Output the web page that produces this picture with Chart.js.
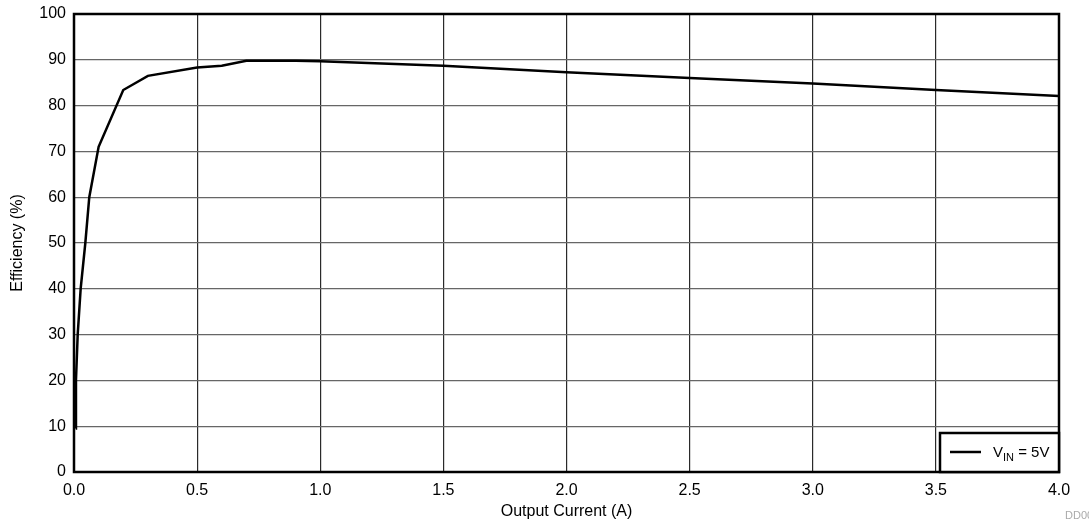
<!DOCTYPE html>
<html>
<head>
<meta charset="utf-8">
<script src="https://cdn.jsdelivr.net/npm/chart.js@4.4.1/dist/chart.umd.min.js"></script>
<style>
  html, body { margin: 0; padding: 0; background: #fff; }
  #wrap { width: 1089px; height: 522px; }
</style>
</head>
<body>
<div id="wrap"><canvas id="eff" width="1089" height="522"></canvas></div>
<script>
// values
var currentA = [0.007, 0.008, 0.015, 0.027, 0.046, 0.062, 0.1, 0.2, 0.3, 0.5, 0.6, 0.7, 0.9, 1.0, 1.5, 2.0, 2.5, 3.0, 3.5, 4.0];
var efficiency = [9.5, 20, 30, 40, 50, 60, 71, 83.4, 86.5, 88.3, 88.7, 89.8, 89.8, 89.7, 88.7, 87.3, 86.0, 84.8, 83.4, 82.1];
var xTicks = [0, 0.5, 1, 1.5, 2, 2.5, 3, 3.5, 4];
var yTicks = [0, 10, 20, 30, 40, 50, 60, 70, 80, 90, 100];
var legendMain = "V";
var legendSub = "IN";
var legendRest = " = 5V";
var figNote = "DD001";

var FONT = "'Liberation Sans', Arial, sans-serif";
Chart.defaults.font.family = FONT;
Chart.defaults.color = "#000";

var points = currentA.map(function (x, i) {
  return { x: x, y: efficiency[i] };
});

// frame box, in-plot legend and figure number
var framePlugin = {
  id: "frame",
  afterDraw: function (chart) {
    var c = chart.ctx, a = chart.chartArea;
    c.save();
    c.strokeStyle = "#000";
    c.lineWidth = 2.5;
    c.strokeRect(a.left, a.top, a.right - a.left, a.bottom - a.top);

    // legend box, lower right corner
    var bw = 119, bh = 39;
    var bx = a.right - bw, by = a.bottom - bh;
    c.fillStyle = "#fff";
    c.fillRect(bx, by, bw, bh);
    c.strokeRect(bx, by, bw, bh);
    c.beginPath();
    c.lineWidth = 2.5;
    c.moveTo(bx + 10, by + 19);
    c.lineTo(bx + 41, by + 19);
    c.stroke();

    c.fillStyle = "#000";
    c.textBaseline = "alphabetic";
    c.textAlign = "left";
    var tx = bx + 53, ty = by + 24;
    c.font = "15px " + FONT;
    c.fillText(legendMain, tx, ty);
    tx += c.measureText(legendMain).width;
    c.font = "11px " + FONT;
    c.fillText(legendSub, tx, ty + 4);
    tx += c.measureText(legendSub).width;
    c.font = "15px " + FONT;
    c.fillText(legendRest, tx, ty);

    c.fillStyle = "#aaa";
    c.font = "11px " + FONT;
    c.textAlign = "left";
    c.fillText(figNote, chart.width - 24, chart.height - 3);
    c.restore();
  }
};

new Chart(document.getElementById("eff"), {
  type: "line",
  data: {
    datasets: [
      {
        label: legendMain + legendSub + legendRest,
        data: points,
        borderColor: "#000",
        borderWidth: 2.5,
        pointRadius: 0,
        tension: 0,
        fill: false
      }
    ]
  },
  options: {
    responsive: false,
    animation: false,
    devicePixelRatio: 1,
    layout: { padding: { left: 0, top: 14, right: 30, bottom: 0 } },
    plugins: {
      legend: { display: false },
      tooltip: { enabled: false }
    },
    scales: {
      x: {
        type: "linear",
        min: 0,
        max: 4,
        afterFit: function (s) { s.height = 50; },
        afterBuildTicks: function (s) {
          s.ticks = xTicks.map(function (v) { return { value: v }; });
        },
        ticks: {
          font: { size: 16 },
          padding: 9,
          maxRotation: 0,
          callback: function (v) { return v.toFixed(1); }
        },
        grid: { color: "#2a2a2a", lineWidth: 1.2, drawTicks: false },
        border: { display: false },
        title: {
          display: true,
          text: "Output Current (A)",
          font: { size: 16 },
          padding: { top: 0, bottom: 1 }
        }
      },
      y: {
        min: 0,
        max: 100,
        afterFit: function (s) { s.width = 74; },
        afterBuildTicks: function (s) {
          s.ticks = yTicks.map(function (v) { return { value: v }; });
        },
        ticks: { font: { size: 16 }, padding: 2 },
        grid: {
          color: "#666",
          lineWidth: 1.2,
          drawTicks: true,
          tickLength: 6,
          tickColor: "rgba(0,0,0,0)"
        },
        border: { display: false },
        title: {
          display: true,
          text: "Efficiency (%)",
          font: { size: 16 },
          padding: { top: 8, bottom: 0 }
        }
      }
    }
  },
  plugins: [framePlugin]
});
</script>
</body>
</html>
